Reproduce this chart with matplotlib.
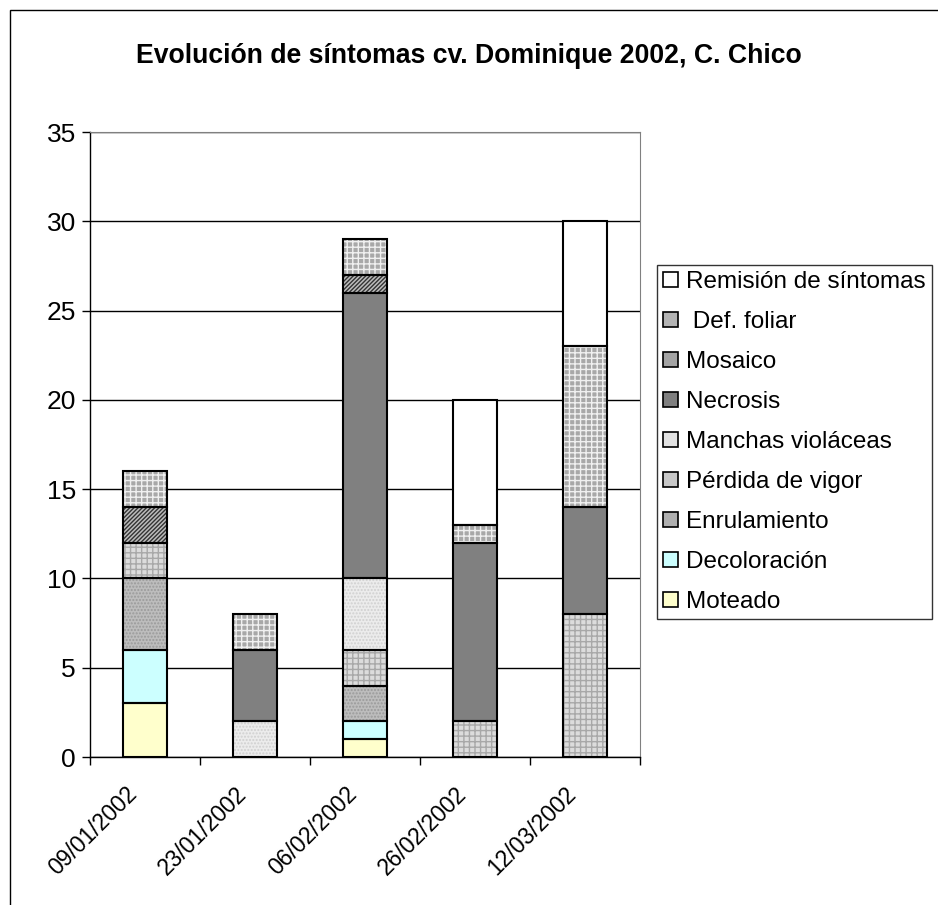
import matplotlib.pyplot as plt
import matplotlib.transforms as mtransforms
import numpy as np
from matplotlib.patches import Patch, Rectangle

plt.rcParams['font.family'] = ['Liberation Sans', 'DejaVu Sans']

# Data
fechas = ["09/01/2002", "23/01/2002", "06/02/2002", "26/02/2002", "12/03/2002"]
sintomas = ["Moteado", "Decoloración", "Enrulamiento", "Pérdida de vigor",
            "Manchas violáceas", "Necrosis", "Mosaico", " Def. foliar",
            "Remisión de síntomas"]
moteado = [3, 0, 1, 0, 0]
decoloracion = [3, 0, 1, 0, 0]
enrulamiento = [4, 0, 2, 0, 0]
perdida_vigor = [2, 0, 2, 2, 8]
manchas = [0, 2, 4, 0, 0]
necrosis = [0, 4, 16, 10, 6]
mosaico = [2, 0, 1, 0, 0]
def_foliar = [2, 2, 2, 1, 9]
remision = [0, 0, 0, 7, 7]
series = [moteado, decoloracion, enrulamiento, perdida_vigor, manchas,
          necrosis, mosaico, def_foliar, remision]

# fill colour, hatch, hatch colour, legend swatch colour
estilos = [
    ("#ffffcc", None, None, "#ffffcc"),
    ("#ccffff", None, None, "#ccffff"),
    ("#bdbdbd", ".....", "#9a9a9a", "#b0b0b0"),
    ("#dcdcdc", "+++", "#a8a8a8", "#c8c8c8"),
    ("#ececec", ".....", "#d0d0d0", "#e2e2e2"),
    ("#808080", None, None, "#808080"),
    ("#bcbcbc", "////////", "#333333", "#a4a4a4"),
    ("#a8a8a8", "+++", "#f0f0f0", "#b4b4b4"),
    ("#ffffff", None, None, "#ffffff"),
]

fig = plt.figure(figsize=(9.38, 9.05), dpi=100)
ax = fig.add_axes([0.0959, 0.1635, 0.586, 0.6906])

x = np.arange(len(fechas))
width = 0.4
bottom = np.zeros(len(fechas))
for vals, (fc, hatch, hc, _) in zip(series, estilos):
    vals = np.array(vals, dtype=float)
    idx = vals > 0
    if hatch:
        ax.bar(x[idx], vals[idx], width, bottom=bottom[idx], color=fc,
               hatch=hatch, edgecolor=hc, linewidth=0, zorder=2)
    else:
        ax.bar(x[idx], vals[idx], width, bottom=bottom[idx], color=fc,
               linewidth=0, zorder=2)
    ax.bar(x[idx], vals[idx], width, bottom=bottom[idx], fill=False,
           edgecolor="black", linewidth=1.5, zorder=3)
    bottom += vals

ax.set_xlim(-0.5, 4.5)
ax.set_ylim(0, 35)
ax.set_yticks(range(0, 36, 5))
ax.yaxis.grid(True, color="black", linewidth=1.0, zorder=0)
ax.set_axisbelow(True)

ax.set_xticks(x)
ax.set_xticklabels(fechas, rotation=45, ha="right", rotation_mode="anchor",
                   fontsize=16.5)
ax.set_xticks(np.arange(-0.5, 5, 1), minor=True)
ax.tick_params(axis="x", which="major", length=0, pad=18)
ax.tick_params(axis="x", which="minor", length=6, width=1, color="black")
ax.tick_params(axis="y", length=6, width=1, labelsize=19, pad=4)
shift = mtransforms.ScaledTranslation(-20 / 100, 0, fig.dpi_scale_trans)
for lbl in ax.get_xticklabels():
    lbl.set_transform(lbl.get_transform() + shift)

for s in ["top", "right"]:
    ax.spines[s].set_color("#808080")
for s in ["left", "bottom"]:
    ax.spines[s].set_color("black")
    ax.spines[s].set_linewidth(1.0)

fig.suptitle("Evolución de síntomas cv. Dominique 2002, C. Chico",
             x=0.5, y=0.952, fontsize=19.2, fontweight="bold")

handles = []
for nombre, (fc, hatch, hc, sw) in zip(sintomas, estilos):
    handles.append(Patch(facecolor=sw, edgecolor="black", linewidth=1.2,
                         label=nombre))
handles = handles[::-1]
leg = fig.legend(handles=handles, loc="upper left",
                 bbox_to_anchor=(657 / 938, 1 - 265 / 905), fontsize=17.5,
                 frameon=True, fancybox=False, edgecolor="black",
                 handlelength=0.6, handleheight=0.6, handletextpad=0.35,
                 labelspacing=0.74, borderpad=0.25, borderaxespad=0)
leg.get_frame().set_linewidth(1.0)

# chart area border
fig.patches.append(Rectangle((10 / 938, -0.01), 1.0, 1 - 10 / 905 + 0.01,
                             transform=fig.transFigure, fill=False,
                             edgecolor="black", linewidth=1.0))

fig.savefig("out.png", dpi=100)
